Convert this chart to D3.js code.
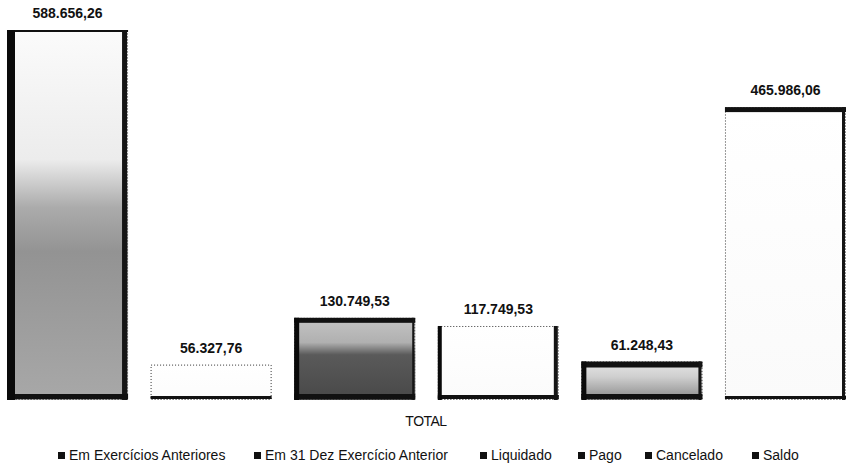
<!DOCTYPE html>
<html>
<head>
<meta charset="utf-8">
<script src="https://cdn.jsdelivr.net/npm/d3@7"></script>
<style>
  body { margin: 0; background: #fff; }
  .value { font-family: "Liberation Sans", Arial, sans-serif; font-weight: bold; font-size: 14px; fill: #111; }
  .legend text, .axis-label { font-family: "Liberation Sans", Arial, sans-serif; font-size: 14px; fill: #111; }
  .axis-label { letter-spacing: -0.5px; }
</style>
</head>
<body>
<div id="chart"></div>
<script>
// Data
const categories = ["Em Exercícios Anteriores", "Em 31 Dez Exercício Anterior", "Liquidado", "Pago", "Cancelado", "Saldo"];
const values = [588656.26, 56327.76, 130749.53, 117749.53, 61248.43, 465986.06];
const valueLabels = ["588.656,26", "56.327,76", "130.749,53", "117.749,53", "61.248,43", "465.986,06"];
const groupLabel = "TOTAL";

const W = 848, H = 464;
const svg = d3.select("#chart").append("svg")
  .attr("width", W)
  .attr("height", H);

// scanned-look fills (vertical gradients)
const defs = svg.append("defs");
const grads = [
  [["0%", "#fbfbfb"], ["35%", "#ececec"], ["48%", "#ababab"], ["60%", "#939393"], ["100%", "#a8a8a8"]],
  [["0%", "#ffffff"], ["100%", "#fcfcfc"]],
  [["0%", "#c4c4c4"], ["30%", "#b0b0b0"], ["45%", "#5a5a5a"], ["100%", "#484848"]],
  [["0%", "#ffffff"], ["100%", "#fbfbfb"]],
  [["0%", "#e6e6e6"], ["40%", "#cfcfcf"], ["100%", "#8a8a8a"]],
  [["0%", "#ffffff"], ["100%", "#fafafa"]]
];
grads.forEach((stops, i) => {
  const g = defs.append("linearGradient").attr("id", "g" + i)
    .attr("x1", 0).attr("y1", 0).attr("x2", 0).attr("y2", 1);
  stops.forEach(s => g.append("stop").attr("offset", s[0]).attr("stop-color", s[1]));
});
// border widths per bar: top, right, bottom, left (0 = dotted hairline only)
const borders = [
  [2, 5, 5, 8],
  [0, 0, 3, 0],
  [5, 2, 5, 5],
  [0, 4, 4, 4],
  [6, 3, 5, 5],
  [5, 3, 3, 0]
];

const x = d3.scaleBand()
  .domain(categories)
  .range([7, 846])
  .paddingInner(0.157)
  .paddingOuter(0);

const y = d3.scaleLinear()
  .domain([0, d3.max(values)])
  .range([400, 30]);

const bars = svg.selectAll(".bar")
  .data(categories)
  .enter().append("g")
  .attr("class", "bar");

bars.append("rect")
  .attr("x", d => x(d))
  .attr("y", (d, i) => y(values[i]))
  .attr("width", x.bandwidth())
  .attr("height", (d, i) => y(0) - y(values[i]))
  .attr("fill", (d, i) => `url(#g${i})`);

// dotted outer edge like the scan
bars.append("rect")
  .attr("x", d => x(d) + 0.5)
  .attr("y", (d, i) => y(values[i]) + 0.5)
  .attr("width", x.bandwidth() - 1)
  .attr("height", (d, i) => y(0) - y(values[i]) - 1)
  .attr("fill", "none")
  .attr("stroke", "#333")
  .attr("stroke-width", 1)
  .attr("stroke-dasharray", "1,2");

// heavy sides
bars.each(function(d, i) {
  const g = d3.select(this);
  const x0 = x(d), x1 = x(d) + x.bandwidth();
  const y0 = y(values[i]), y1 = y(0);
  const [t, r, b, l] = borders[i];
  if (t) g.append("rect").attr("x", x0).attr("y", y0).attr("width", x1 - x0).attr("height", t).attr("fill", "#111");
  if (r) g.append("rect").attr("x", x1 - r - 1).attr("y", y0).attr("width", r).attr("height", y1 - y0).attr("fill", "#151515");
  if (b) g.append("rect").attr("x", x0).attr("y", y1 - b - 1).attr("width", x1 - x0).attr("height", b).attr("fill", "#111");
  if (l) g.append("rect").attr("x", x0).attr("y", y0).attr("width", l).attr("height", y1 - y0).attr("fill", "#0a0a0a");
});

bars.append("text")
  .attr("class", "value")
  .attr("x", d => x(d) + x.bandwidth() / 2)
  .attr("y", (d, i) => y(values[i]) - 12)
  .attr("text-anchor", "middle")
  .text((d, i) => valueLabels[i]);

svg.append("text")
  .attr("class", "axis-label")
  .attr("x", 426)
  .attr("y", 426)
  .attr("text-anchor", "middle")
  .text(groupLabel);

// legend
const legendX = [58, 254, 480, 578, 645, 752];
const legend = svg.selectAll(".legend")
  .data(categories)
  .enter().append("g")
  .attr("class", "legend")
  .attr("transform", (d, i) => `translate(${legendX[i]}, 460)`);

legend.append("rect")
  .attr("x", 0)
  .attr("y", -8)
  .attr("width", 7)
  .attr("height", 7)
  .attr("fill", "#111");

legend.append("text")
  .attr("x", 11)
  .attr("y", 0)
  .text(d => d);
</script>
</body>
</html>
